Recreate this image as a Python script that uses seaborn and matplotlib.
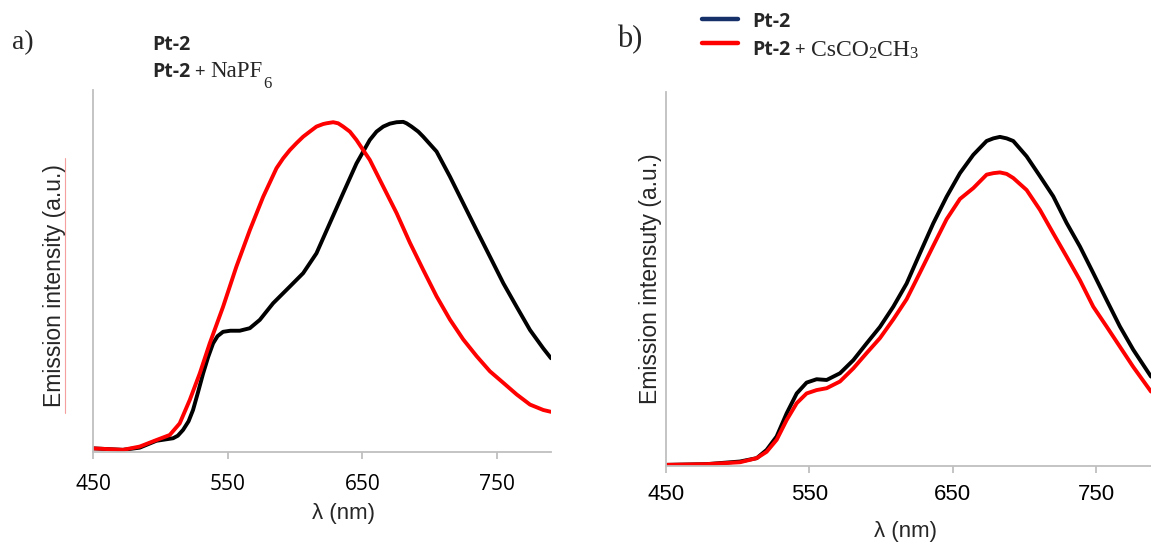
import numpy as np
import pandas as pd
import matplotlib
matplotlib.use("Agg")
import matplotlib.pyplot as plt
from matplotlib.lines import Line2D
import seaborn as sns

# ---------------- data ----------------
a_black_wl = [450, 472.3, 484.7, 497.1, 506.0, 509.5, 513.0, 516.9, 521.0, 524.3, 528.0, 531.8,
              535.5, 539.2, 542.5, 546.6, 552.0, 559.0, 566.5,
              573.9, 583.8, 596.2, 606.1, 616.0, 625.9, 635.8, 645.7, 655.6, 660.6, 665.6, 670.5,
              675.5, 680.4, 682.9, 686.6, 691.6,
              695.3, 705.2, 715.1, 725.0, 734.9, 744.8, 754.8, 764.7, 774.6, 784.5, 790.2]
a_black_int = [0.010, 0.006, 0.012, 0.031, 0.036, 0.038, 0.045, 0.061, 0.085, 0.116, 0.165, 0.217,
               0.262, 0.300, 0.320, 0.332, 0.335, 0.335, 0.342,
               0.365, 0.411, 0.457, 0.494, 0.549, 0.632, 0.715, 0.797, 0.862, 0.885, 0.899, 0.907,
               0.911, 0.912, 0.908, 0.899, 0.885,
               0.871, 0.830, 0.761, 0.687, 0.613, 0.540, 0.466, 0.401, 0.337, 0.286, 0.259]

a_red_wl = [450, 472.3, 484.7, 497.1, 507.0, 514.4, 521.9, 529.3, 536.7, 546.6, 556.5, 566.5,
            576.4, 586.3, 591.2, 596.2, 601.1, 606.1, 611.0, 616.0, 621.0, 623.4, 628.4, 632.1,
            635.8, 640.8, 645.7, 650.7, 655.6, 665.6, 675.5,
            685.4, 695.3, 705.2, 715.1, 725.0, 734.9, 744.8, 754.8, 764.7, 774.6, 784.5, 790.2]
a_red_int = [0.010, 0.006, 0.015, 0.033, 0.047, 0.079, 0.144, 0.217, 0.300, 0.401, 0.512, 0.613,
             0.705, 0.784, 0.811, 0.834, 0.853, 0.871, 0.885, 0.899, 0.906, 0.908, 0.911, 0.908,
             0.899, 0.885, 0.862, 0.834, 0.807, 0.733, 0.660,
             0.578, 0.503, 0.430, 0.366, 0.311, 0.265, 0.223, 0.191, 0.159, 0.131, 0.116, 0.111]

b_wl = [450, 478.4, 501.6, 513.3, 520.2, 527.2, 534.2, 541.2, 548.1, 555.1, 562.1, 571.4, 580.7,
        590.0, 599.3, 608.6, 617.9, 627.2, 636.5, 645.8, 655.1, 664.4, 673.7, 678.4, 683.0, 687.7,
        692.3, 701.6, 710.9, 720.2, 729.5, 738.8, 748.1, 757.4, 766.7, 776.0, 788.4]
b_black_int = [0.003, 0.005, 0.012, 0.021, 0.043, 0.079, 0.141, 0.194, 0.223, 0.232, 0.230, 0.248,
               0.283, 0.328, 0.372, 0.426, 0.488, 0.569, 0.649, 0.720, 0.783, 0.832, 0.869, 0.876,
               0.880, 0.876,
               0.869, 0.828, 0.775, 0.721, 0.650, 0.587, 0.516, 0.444, 0.373, 0.311, 0.239]
b_red_int = [0.003, 0.005, 0.010, 0.021, 0.038, 0.070, 0.123, 0.168, 0.194, 0.203, 0.208, 0.226,
             0.261, 0.302, 0.342, 0.392, 0.446, 0.517, 0.589, 0.660, 0.714, 0.743, 0.779, 0.783,
             0.785, 0.781,
             0.770, 0.738, 0.685, 0.622, 0.560, 0.497, 0.426, 0.373, 0.319, 0.265, 0.199]

x_ticks = [450, 550, 650, 750]
series_a = ["Pt-2", "Pt-2 + NaPF6"]
series_b = ["Pt-2", "Pt-2 + CsCO2CH3"]

df_a = pd.concat([
    pd.DataFrame({"wl": a_black_wl, "I": a_black_int, "s": series_a[0]}),
    pd.DataFrame({"wl": a_red_wl, "I": a_red_int, "s": series_a[1]}),
])
df_b = pd.concat([
    pd.DataFrame({"wl": b_wl, "I": b_black_int, "s": series_b[0]}),
    pd.DataFrame({"wl": b_wl, "I": b_red_int, "s": series_b[1]}),
])

# ---------------- figure ----------------
sns.set_style("white")
plt.rcParams['font.family'] = ['Liberation Sans', 'DejaVu Sans']
plt.rcParams['lines.solid_joinstyle'] = 'round'
plt.rcParams['lines.solid_capstyle'] = 'round'

W, H = 1151, 546
fig = plt.figure(figsize=(W / 100, H / 100), dpi=100)

def rect(l, r, t, b):
    return [l / W, 1 - b / H, (r - l) / W, (b - t) / H]

ax_a = fig.add_axes(rect(93, 551, 90, 452))
ax_b = fig.add_axes(rect(666, 1151, 92, 466))

grey = "#BFBFBF"
for ax, df, series, xmax, tickfont, pad in [
        (ax_a, df_a, series_a, 790.2, dict(family=['Open Sans', 'DejaVu Sans'], size=15), 11),
        (ax_b, df_b, series_b, 788.4, dict(family=['Liberation Sans', 'DejaVu Sans'], size=16), 8)]:
    sns.lineplot(data=df, x="wl", y="I", hue="s", hue_order=series,
                 palette=["#000000", "#FF0000"], linewidth=2.8, legend=False,
                 ax=ax, sort=False, estimator=None)
    ax.set_xlim(450, xmax)
    ax.set_ylim(0, 1)
    ax.set_xticks(x_ticks)
    ax.set_xticklabels([str(t) for t in x_ticks], **tickfont)
    ax.set_yticks([])
    for s in ["top", "right"]:
        ax.spines[s].set_visible(False)
    for s in ["left", "bottom"]:
        ax.spines[s].set_color(grey)
        ax.spines[s].set_linewidth(1.3)
    ax.tick_params(axis="x", direction="out", length=5, width=1.3, color=grey,
                   pad=pad, labelcolor="black", bottom=True)

ax_a.set_xlabel("λ (nm)", fontsize=16, va="center", ha="center")
ax_a.xaxis.set_label_coords(0.548, -0.169)
ax_a.set_ylabel("Emission intensity (a.u.)", fontsize=16.5, va="center", ha="center")
ax_a.yaxis.set_label_coords(-0.083, 0.461)

ax_b.set_xlabel("λ (nm)", fontsize=16, va="center", ha="center")
ax_b.xaxis.set_label_coords(0.493, -0.174)
ax_b.set_ylabel("Emission intensuty (a.u.)", fontsize=16.5, va="center", ha="center")
ax_b.yaxis.set_label_coords(-0.031, 0.5)

# faint pink underline next to panel a's y label
fig.add_artist(Line2D([65 / W, 65 / W], [1 - 158 / H, 1 - 413 / H],
                      color="#F4A0A0", linewidth=0.8))

# panel letters
serif = ['Liberation Serif', 'DejaVu Serif']
sans_b = dict(family=['Open Sans', 'DejaVu Sans'], weight='bold')
fig.text(12 / W, 1 - 49 / H, "a)", family=serif, fontsize=20, va="baseline")
fig.text(617 / W, 1 - 47 / H, "b)", family=serif, fontsize=22, va="baseline")

renderer = fig.canvas.get_renderer()

def pieces(x_px, y_px, items):
    x = x_px
    for txt, props, dy in items:
        t = fig.text(x / W, 1 - (y_px + dy) / H, txt, va="baseline", ha="left", **props)
        bb = t.get_window_extent(renderer=renderer)
        x += bb.width

# panel a legend (text only)
pieces(152, 50, [(series_a[0], dict(sans_b, size=14), 0)])
pieces(152, 77, [("Pt-2", dict(sans_b, size=14), 0),
                 (" + ", dict(family=['Open Sans', 'DejaVu Sans'], size=13.5), 0),
                 ("NaPF", dict(family=serif, size=16.5), 0),
                 ("6", dict(family=serif, size=12), 11)])

# panel b legend
fig.add_artist(Line2D([702 / W, 738 / W], [1 - 19 / H, 1 - 19 / H], color="#16306A", linewidth=3.2))
fig.add_artist(Line2D([702 / W, 738 / W], [1 - 43 / H, 1 - 43 / H], color="#FF0000", linewidth=3.2))
pieces(752, 27, [(series_b[0], dict(sans_b, size=14), 0)])
pieces(752, 55, [("Pt-2", dict(sans_b, size=14), 0),
                 (" + ", dict(family=['Open Sans', 'DejaVu Sans'], size=13.5), 0),
                 ("CsCO", dict(family=serif, size=17), 1),
                 ("2", dict(family=serif, size=12), 3),
                 ("CH", dict(family=serif, size=17), 1),
                 ("3", dict(family=serif, size=12), 3)])

fig.savefig("out.png", dpi=100)
